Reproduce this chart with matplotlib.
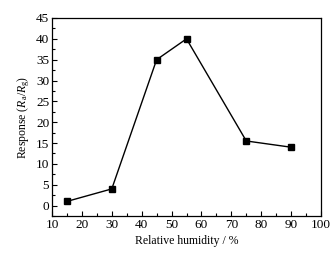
import matplotlib
matplotlib.use('Agg')
import matplotlib.pyplot as plt
from matplotlib.ticker import MultipleLocator

# humidity response data
humidity = [15, 30, 45, 55, 75, 90]
response = [1.0, 4.0, 35.0, 40.0, 15.5, 14.0]

plt.rcParams['font.family'] = 'Liberation Serif'
plt.rcParams['mathtext.fontset'] = 'custom'
plt.rcParams['mathtext.rm'] = 'Liberation Serif'
plt.rcParams['mathtext.it'] = 'Liberation Serif:italic'

fig = plt.figure(figsize=(3.36, 2.61), dpi=100)
ax = fig.add_axes([52 / 336, 45 / 261, 269 / 336, 198 / 261])

ax.plot(humidity, response, color='black', lw=1.0, marker='s', ms=4.5)

ax.set_xlim(10, 100)
ax.set_ylim(-2.5, 45)
ax.xaxis.set_major_locator(MultipleLocator(10))
ax.xaxis.set_minor_locator(MultipleLocator(5))
ax.yaxis.set_major_locator(MultipleLocator(5))
ax.yaxis.set_minor_locator(MultipleLocator(2.5))
ax.tick_params(which='both', direction='in', top=False, right=False, labelsize=9.5, pad=2)
ax.tick_params(which='major', length=3.5, width=0.8)
ax.tick_params(which='minor', length=2, width=0.8)
for s in ax.spines.values():
    s.set_linewidth(0.9)

ax.set_xlabel('Relative humidity / %', fontsize=8.5, labelpad=3)
ax.set_ylabel(r'Response ($R_\mathrm{a}/R_\mathrm{g}$)', fontsize=8.5, labelpad=3)

fig.savefig('out.png', dpi=100)
